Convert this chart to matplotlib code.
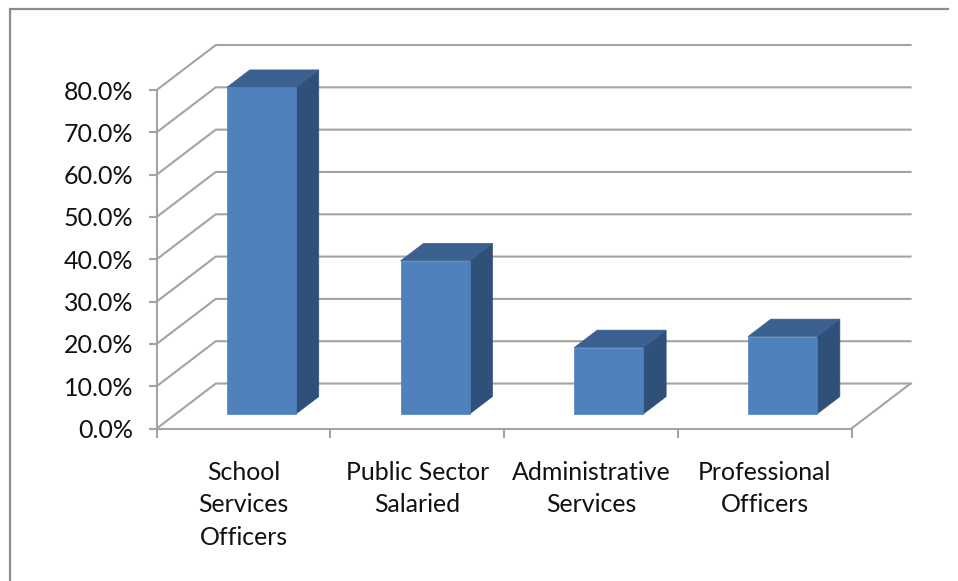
"""Salaried staff groups: 3-D style column chart drawn on a flat matplotlib axes."""

import matplotlib
matplotlib.use("Agg")
import matplotlib.pyplot as plt
from matplotlib.patches import Polygon

plt.rcParams["font.family"] = ["Lato", "DejaVu Sans"]

CATEGORIES = ["School\nServices\nOfficers", "Public Sector\nSalaried",
              "Administrative\nServices", "Professional\nOfficers"]
VALUES = [77.2, 36.2, 15.7, 18.3]
Y_TICKS = [0, 10, 20, 30, 40, 50, 60, 70, 80]
Y_LABELS = ["0.0%", "10.0%", "20.0%", "30.0%", "40.0%", "50.0%", "60.0%", "70.0%", "80.0%"]

W, H = 958, 581
GRID = "#a3a3a3"
FRONT = "#4f81bd"
TOP = "#3a6190"
SIDE = "#2f5078"

# how far one full unit of depth shifts in data units (category, percent)
DEPTH_X = 0.34
DEPTH_Y = 10.63
BAR_WIDTH = 0.397
BAR_CENTER = 0.493
BAR_Z0, BAR_Z1 = 0.322, 0.71


def proj(x, y, z):
    return x + DEPTH_X * z, y + DEPTH_Y * z


fig = plt.figure(figsize=(W / 100, H / 100), dpi=100)
fig.patch.set_facecolor("white")

# chart frame: only top and left edges fall inside the image
fig.add_artist(plt.Line2D([9.5 / W, 9.5 / W, 948 / W], [0, 1 - 8.5 / H, 1 - 8.5 / H],
                          color="#8c8c8c", lw=1.6, solid_joinstyle="miter"))

ax = fig.add_axes([156.7 / W, 1 - 428.5 / H, (851.5 - 156.7) / W, (428.5 - 90) / H])
ax.set_xlim(0, 4)
ax.set_ylim(0, 80)
ax.patch.set_visible(False)
for name in ["top", "right"]:
    ax.spines[name].set_visible(False)
for name in ["left", "bottom"]:
    ax.spines[name].set_color(GRID)
    ax.spines[name].set_linewidth(1.5)

ax.set_yticks(Y_TICKS)
ax.set_yticklabels(Y_LABELS)
ax.set_xticks([0, 1, 2, 3, 4])
ax.set_xticklabels([])
ax.tick_params(axis="y", length=6, width=1.5, color=GRID, labelsize=18,
               labelcolor="#111111", pad=11)
ax.tick_params(axis="x", length=6.5, width=1.5, color=GRID)

# gridlines: slanted run from the axis to the back wall, then across the wall
for v in Y_TICKS:
    bx, by = proj(0, v, 1)
    ex, ey = proj(4, v, 1)
    ax.plot([0, bx, ex], [v, by, ey], color=GRID, lw=1.5, clip_on=False, zorder=1,
            solid_joinstyle="miter")

# floor edge on the right-hand side
ax.plot([4, proj(4, 0, 1)[0]], [0, proj(4, 0, 1)[1]], color=GRID, lw=1.5, clip_on=False, zorder=1)

# each column: front face, top and right side
for i, (label, val) in enumerate(zip(CATEGORIES, VALUES)):
    x0 = i + BAR_CENTER - BAR_WIDTH / 2
    x1 = i + BAR_CENTER + BAR_WIDTH / 2
    front = [proj(x0, 0, BAR_Z0), proj(x1, 0, BAR_Z0), proj(x1, val, BAR_Z0), proj(x0, val, BAR_Z0)]
    top = [proj(x0, val, BAR_Z0), proj(x1, val, BAR_Z0), proj(x1, val, BAR_Z1), proj(x0, val, BAR_Z1)]
    side = [proj(x1, 0, BAR_Z0), proj(x1, 0, BAR_Z1), proj(x1, val, BAR_Z1), proj(x1, val, BAR_Z0)]
    for pts, col in [(side, SIDE), (top, TOP), (front, FRONT)]:
        ax.add_patch(Polygon(pts, closed=True, facecolor=col, edgecolor=col, lw=0.5,
                             clip_on=False, zorder=3))
    ax.annotate(label, xy=(i + 0.5, 0), xytext=(0, -23.3), textcoords="offset points",
                ha="center", va="top", fontsize=17.9, color="#111111", linespacing=1.5)

fig.savefig("out.png", dpi=100)
